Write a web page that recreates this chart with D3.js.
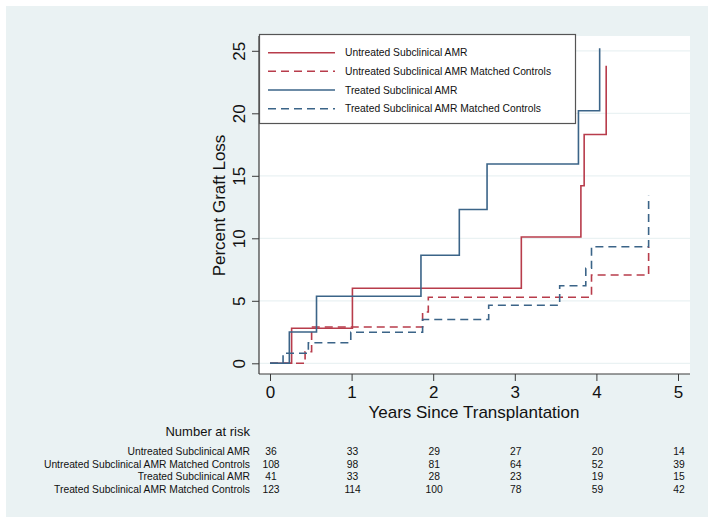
<!DOCTYPE html>
<html>
<head>
<meta charset="utf-8">
<script src="https://cdn.jsdelivr.net/npm/d3@7"></script>
<style>
  html, body { margin: 0; padding: 0; background: #ffffff; }
  svg { display: block; font-family: "Liberation Sans", Arial, Helvetica, sans-serif; }
</style>
</head>
<body>
<svg id="chart" width="714" height="523"></svg>
<script>
// ---------------- DATA ----------------
const seriesNames = [
  "Untreated Subclinical AMR",
  "Untreated Subclinical AMR Matched Controls",
  "Treated Subclinical AMR",
  "Treated Subclinical AMR Matched Controls"
];
// step times (years) and cumulative percent graft loss
const untreatedT = [0, 0.265, 1.01, 3.08, 3.81, 3.85, 4.12];
const untreatedV = [0, 2.8, 6.0, 10.1, 14.2, 18.3, 23.8];
const untreatedCtrlT = [0, 0.43, 0.51, 1.87, 1.94, 3.94, 4.64];
const untreatedCtrlV = [0, 0.93, 2.9, 4.1, 5.28, 7.07, 9.3];
const treatedT = [0, 0.237, 0.57, 1.85, 2.32, 2.66, 3.78, 4.04];
const treatedV = [0, 2.5, 5.37, 8.65, 12.3, 15.95, 20.2, 25.2];
const treatedCtrlT = [0, 0.16, 0.47, 0.99, 1.87, 2.68, 3.55, 3.87, 3.94, 4.64];
const treatedCtrlV = [0, 0.8, 1.65, 2.48, 3.5, 4.65, 6.2, 7.6, 9.33, 13.4];

const xTicks = [0, 1, 2, 3, 4, 5];
const yTicks = [0, 5, 10, 15, 20, 25];

// number at risk at each x tick
const riskUntreated = [36, 33, 29, 27, 20, 14];
const riskUntreatedCtrl = [108, 98, 81, 64, 52, 39];
const riskTreated = [41, 33, 28, 23, 19, 15];
const riskTreatedCtrl = [123, 114, 100, 78, 59, 42];

// ---------------- STYLE ----------------
const RED = "#b83c4b";
const BLUE = "#3b6488";
const BG = "#eaf2f3";

const series = [
  { name: seriesNames[0], t: untreatedT, v: untreatedV, color: RED, dash: null },
  { name: seriesNames[1], t: untreatedCtrlT, v: untreatedCtrlV, color: RED, dash: "8,5" },
  { name: seriesNames[2], t: treatedT, v: treatedV, color: BLUE, dash: null },
  { name: seriesNames[3], t: treatedCtrlT, v: treatedCtrlV, color: BLUE, dash: "8,5" }
];
const riskRows = [riskUntreated, riskUntreatedCtrl, riskTreated, riskTreatedCtrl];

const svg = d3.select("#chart");

// outer background
svg.append("rect").attr("x", 6).attr("y", 6).attr("width", 702).attr("height", 511).attr("fill", BG);

// plot region
const plot = { left: 259, right: 690, top: 36, bottom: 374 };
svg.append("rect")
  .attr("x", plot.left).attr("y", plot.top)
  .attr("width", plot.right - plot.left).attr("height", plot.bottom - plot.top)
  .attr("fill", "#ffffff");

const x = d3.scaleLinear().domain([0, 5]).range([270, 678]);
const y = d3.scaleLinear().domain([0, 25]).range([363.3, 50.8]);

// gridlines
svg.append("g").selectAll("line").data(yTicks).join("line")
  .attr("x1", plot.left).attr("x2", plot.right)
  .attr("y1", d => y(d)).attr("y2", d => y(d))
  .attr("stroke", BG).attr("stroke-width", 1.2);

// lines
const line = d3.line().x(d => x(d[0])).y(d => y(d[1])).curve(d3.curveStepAfter);
series.forEach(s => {
  const pts = s.t.map((t, i) => [t, s.v[i]]);
  svg.append("path")
    .attr("d", line(pts))
    .attr("fill", "none")
    .attr("stroke", s.color)
    .attr("stroke-width", 1.6)
    .attr("stroke-dasharray", s.dash);
});

// axes
const AX = "#3a3a3a";
const yAxis = svg.append("g").attr("transform", `translate(${plot.left},0)`)
  .call(d3.axisLeft(y).tickValues(yTicks).tickSize(7).tickFormat(d3.format("d")));
yAxis.select(".domain").remove();
yAxis.selectAll(".tick line").attr("stroke", AX);
yAxis.selectAll(".tick text")
  .attr("x", 0).attr("y", -14).attr("dy", 0)
  .attr("text-anchor", "middle")
  .attr("transform", "rotate(-90)")
  .attr("font-size", 17).attr("fill", "#111")
  .attr("font-family", "Liberation Sans, Arial, sans-serif");

const xAxis = svg.append("g").attr("transform", `translate(0,${plot.bottom})`)
  .call(d3.axisBottom(x).tickValues(xTicks).tickSize(7).tickPadding(5).tickFormat(d3.format("d")));
xAxis.select(".domain").remove();
xAxis.selectAll(".tick line").attr("stroke", AX);
xAxis.selectAll(".tick text").attr("font-size", 17).attr("fill", "#111")
  .attr("font-family", "Liberation Sans, Arial, sans-serif");

svg.append("line").attr("x1", plot.left).attr("x2", plot.left)
  .attr("y1", plot.top).attr("y2", plot.bottom).attr("stroke", AX).attr("stroke-width", 1.2);
svg.append("line").attr("x1", plot.left).attr("x2", plot.right)
  .attr("y1", plot.bottom).attr("y2", plot.bottom).attr("stroke", AX).attr("stroke-width", 1.2);

// axis titles
svg.append("text").attr("transform", "translate(225,205.5) rotate(-90)")
  .attr("text-anchor", "middle").attr("font-size", 17).attr("fill", "#111")
  .text("Percent Graft Loss");
svg.append("text").attr("x", 474).attr("y", 418)
  .attr("text-anchor", "middle").attr("font-size", 17).attr("fill", "#111")
  .text("Years Since Transplantation");

// legend
const lg = svg.append("g");
lg.append("rect").attr("x", 259.5).attr("y", 34.5).attr("width", 316).attr("height", 89)
  .attr("fill", "#ffffff").attr("stroke", "#555").attr("stroke-width", 1.2);
const legendRowY = [52.7, 71.3, 90, 108.7];
series.forEach((s, i) => {
  lg.append("line").attr("x1", 268).attr("x2", 335)
    .attr("y1", legendRowY[i]).attr("y2", legendRowY[i])
    .attr("stroke", s.color).attr("stroke-width", 1.6)
    .attr("stroke-dasharray", s.dash);
  lg.append("text").attr("x", 345).attr("y", legendRowY[i] + 3.7)
    .attr("font-size", 10.3).attr("fill", "#111").text(s.name);
});

// number at risk table
svg.append("text").attr("x", 250).attr("y", 436)
  .attr("text-anchor", "end").attr("font-size", 13).attr("fill", "#111")
  .text("Number at risk");
const riskRowY = [455, 467.6, 480.2, 492.8];
riskRows.forEach((row, i) => {
  svg.append("text").attr("x", 250).attr("y", riskRowY[i])
    .attr("text-anchor", "end").attr("font-size", 10.3).attr("fill", "#111")
    .text(seriesNames[i]);
  svg.append("g").selectAll("text").data(row).join("text")
    .attr("x", (d, j) => x(xTicks[j]) + 1).attr("y", riskRowY[i])
    .attr("text-anchor", "middle").attr("font-size", 10.3).attr("fill", "#111")
    .text(d => d);
});
</script>
</body>
</html>
